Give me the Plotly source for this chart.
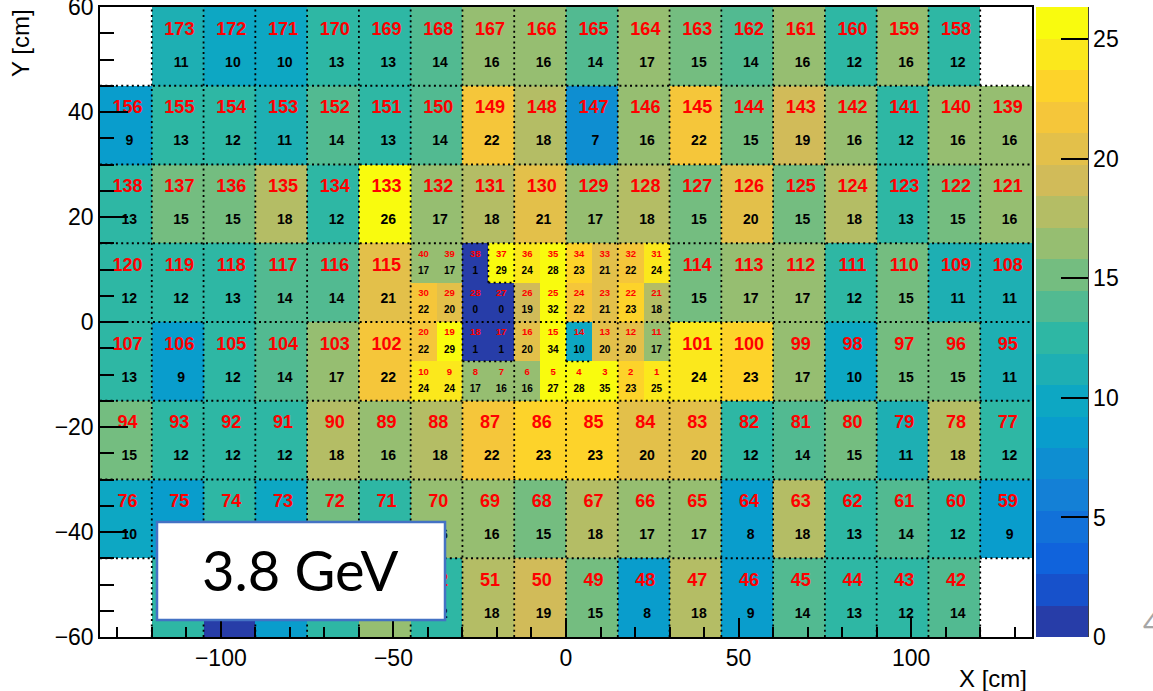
import numpy as np
import plotly.graph_objects as go

# ---------------- data ----------------
# Large cells (15 x 15 cm), rows from top (y 45..60) to bottom (y -60..-45)
row1_ids = [173, 172, 171, 170, 169, 168, 167, 166, 165, 164, 163, 162, 161, 160, 159, 158]
row1_val = [11, 10, 10, 13, 13, 14, 16, 16, 14, 17, 15, 14, 16, 12, 16, 12]
row2_ids = [156, 155, 154, 153, 152, 151, 150, 149, 148, 147, 146, 145, 144, 143, 142, 141, 140, 139]
row2_val = [9, 13, 12, 11, 14, 13, 14, 22, 18, 7, 16, 22, 15, 19, 16, 12, 16, 16]
row3_ids = [138, 137, 136, 135, 134, 133, 132, 131, 130, 129, 128, 127, 126, 125, 124, 123, 122, 121]
row3_val = [13, 15, 15, 18, 12, 26, 17, 18, 21, 17, 18, 15, 20, 15, 18, 13, 15, 16]
row4_ids = [120, 119, 118, 117, 116, 115, 114, 113, 112, 111, 110, 109, 108]
row4_val = [12, 12, 13, 14, 14, 21, 15, 17, 17, 12, 15, 11, 11]
row5_ids = [107, 106, 105, 104, 103, 102, 101, 100, 99, 98, 97, 96, 95]
row5_val = [13, 9, 12, 14, 17, 22, 24, 23, 17, 10, 15, 15, 11]
row6_ids = [94, 93, 92, 91, 90, 89, 88, 87, 86, 85, 84, 83, 82, 81, 80, 79, 78, 77]
row6_val = [15, 12, 12, 12, 18, 16, 18, 22, 23, 23, 20, 20, 12, 14, 15, 11, 18, 12]
row7_ids = [76, 75, 74, 73, 72, 71, 70, 69, 68, 67, 66, 65, 64, 63, 62, 61, 60, 59]
row7_val = [10, 9, 13, 10, 15, 13, 16, 16, 15, 18, 17, 17, 8, 18, 13, 14, 12, 9]
row8_ids = [57, 56, 55, 54, 53, 52, 51, 50, 49, 48, 47, 46, 45, 44, 43, 42]
row8_val = [12, 1, 8, 13, 17, 12, 18, 19, 15, 8, 18, 9, 14, 13, 12, 14]

# Small cells (7.5 x 7.5 cm) in the central insert, rows from top to bottom
srow1_ids = [40, 39, 38, 37, 36, 35, 34, 33, 32, 31]
srow1_val = [17, 17, 1, 29, 24, 28, 23, 21, 22, 24]
srow2_ids = [30, 29, 28, 27, 26, 25, 24, 23, 22, 21]
srow2_val = [22, 20, 0, 0, 19, 32, 22, 21, 23, 18]
srow3_ids = [20, 19, 18, 17, 16, 15, 14, 13, 12, 11]
srow3_val = [22, 29, 1, 1, 20, 34, 10, 20, 20, 17]
srow4_ids = [10, 9, 8, 7, 6, 5, 4, 3, 2, 1]
srow4_val = [24, 24, 17, 16, 16, 27, 28, 35, 23, 25]

colorbar_ticks = [0, 5, 10, 15, 20, 25]
z_max = 26.35
label_text = "3.8 GeV"

# ---------------- geometry of the detector ----------------
NCOL, NROW = 18, 8
X0, Y_TOP, BIG, SMALL = -135.0, 60.0, 15.0, 7.5
full = list(range(18))
gap = [0, 1, 2, 3, 4, 5, 11, 12, 13, 14, 15, 16, 17]
inner = list(range(1, 17))
big_rows = [
    (row1_ids, row1_val, inner), (row2_ids, row2_val, full), (row3_ids, row3_val, full),
    (row4_ids, row4_val, gap), (row5_ids, row5_val, gap), (row6_ids, row6_val, full),
    (row7_ids, row7_val, full), (row8_ids, row8_val, inner),
]
small_rows = [(srow1_ids, srow1_val), (srow2_ids, srow2_val),
              (srow3_ids, srow3_val), (srow4_ids, srow4_val)]
SX0, SY_TOP = -45.0, 15.0

nfx, nfy = 36, 16
fx = X0 + SMALL / 2 + SMALL * np.arange(nfx)
fy = -60 + SMALL / 2 + SMALL * np.arange(nfy)
Z = [[None] * nfx for _ in range(nfy)]

def fine_index(x, y):
    return int(round((x - X0 - SMALL / 2) / SMALL)), int(round((y + 60 - SMALL / 2) / SMALL))

id_x, id_y, id_t, id_s = [], [], [], []
v_x, v_y, v_t, v_s = [], [], [], []

for r, (ids, vals, cols) in enumerate(big_rows):
    yc = Y_TOP - BIG * (r + 0.5)
    for cid, v, c in zip(ids, vals, cols):
        xc = X0 + BIG * (c + 0.5)
        for dx in (-SMALL / 2, SMALL / 2):
            for dy in (-SMALL / 2, SMALL / 2):
                i, j = fine_index(xc + dx, yc + dy)
                Z[j][i] = v
        id_x.append(xc + 0.5); id_y.append(yc + 3.1); id_t.append(str(cid)); id_s.append(18)
        v_x.append(xc + 1.0); v_y.append(yc - 3.2); v_t.append(str(v)); v_s.append(14)

for r, (ids, vals) in enumerate(small_rows):
    yc = SY_TOP - SMALL * (r + 0.5)
    for k, (cid, v) in enumerate(zip(ids, vals)):
        xc = SX0 + SMALL * (k + 0.5)
        i, j = fine_index(xc, yc)
        Z[j][i] = v
        id_x.append(xc); id_y.append(yc + 1.65); id_t.append(str(cid)); id_s.append(9.5)
        v_x.append(xc); v_y.append(yc - 1.6); v_t.append(str(v)); v_s.append(10)

# ---------------- ROOT kBird palette, 20 contour bands ----------------
st = [0.0, 0.125, 0.25, 0.375, 0.5, 0.625, 0.75, 0.875, 1.0]
pr = [0.2082, 0.0592, 0.0780, 0.0232, 0.1802, 0.5301, 0.8186, 0.9956, 0.9764]
pg = [0.1664, 0.3599, 0.5041, 0.6419, 0.7178, 0.7492, 0.7328, 0.7862, 0.9832]
pb = [0.5293, 0.8684, 0.8385, 0.7914, 0.6425, 0.4662, 0.3499, 0.1968, 0.0539]

def bird(f):
    return "rgb(%d,%d,%d)" % tuple(int(round(255 * np.interp(f, st, ch))) for ch in (pr, pg, pb))

NB = 20
cscale = []
for b in range(NB):
    k = int((b + 0.99) * 255 / NB)
    col = bird(min(k, 254) / 254)
    cscale.append([b / NB, col])
    cscale.append([(b + 1) / NB, col])

# ---------------- figure ----------------
fig = go.Figure()
fig.add_trace(go.Heatmap(
    x=fx, y=fy, z=Z, zmin=0, zmax=z_max, colorscale=cscale, zsmooth=False,
    hoverongaps=False,
    colorbar=dict(
        x=(1036 - 100) / 932, xanchor="left", xpad=0, ypad=0,
        y=0.5, yanchor="middle", len=630, lenmode="pixels",
        thickness=52, thicknessmode="pixels", outlinewidth=0,
        tickvals=colorbar_ticks, ticks="inside", ticklen=27, tickwidth=1.5,
        tickcolor="black", ticklabeloverflow="allow",
        tickfont=dict(family="Liberation Sans", size=23, color="black"),
    ),
))

# dotted cell boundaries
gx, gy = [], []
for c in range(1, NCOL):
    xv = X0 + BIG * c
    gx += [xv, xv, None]; gy += [-60, 60, None]
for r in range(1, NROW):
    yv = Y_TOP - BIG * r
    gx += [X0, -X0, None]; gy += [yv, yv, None]
extra = [((-22.5, 7.5), (-22.5, 15)), ((-22.5, 7.5), (-15, 7.5)),
         ((-30, -7.5), (-15, -7.5)), ((0, -7.5), (7.5, -7.5))]
for (a, b) in extra:
    gx += [a[0], b[0], None]; gy += [a[1], b[1], None]
fig.add_trace(go.Scatter(x=gx, y=gy, mode="lines", hoverinfo="skip",
                         line=dict(color="black", width=1.8, dash="2px,3.3px"),
                         showlegend=False))

fig.add_trace(go.Scatter(x=id_x, y=id_y, text=id_t, mode="text", hoverinfo="skip",
                         textfont=dict(family="Liberation Sans", size=id_s, color="red",
                                       weight="bold"),
                         showlegend=False))
fig.add_trace(go.Scatter(x=v_x, y=v_y, text=v_t, mode="text", hoverinfo="skip",
                         textfont=dict(family="Liberation Sans", size=v_s, color="black",
                                       weight="bold"),
                         showlegend=False))

axis_font = dict(family="Liberation Sans", size=23, color="black")
fig.update_layout(
    width=1153, height=691,
    margin=dict(l=100, r=121, t=7, b=54, autoexpand=False),
    paper_bgcolor="white", plot_bgcolor="white",
    showlegend=False,
    xaxis=dict(range=[-135, 135], tick0=0, dtick=50, showgrid=False, zeroline=False,
               ticks="inside", ticklen=19, tickwidth=1.5, tickcolor="black",
               minor=dict(dtick=10, tick0=0, ticks="inside", ticklen=10,
                          tickwidth=1.5, tickcolor="black", showgrid=False),
               showline=True, mirror=True, linecolor="black", linewidth=1.5,
               automargin=False, ticklabeloverflow="allow", tickfont=axis_font),
    yaxis=dict(range=[-60, 60], tick0=0, dtick=20, showgrid=False, zeroline=False,
               ticks="inside", ticklen=28, tickwidth=1.5, tickcolor="black",
               minor=dict(dtick=5, tick0=0, ticks="inside", ticklen=14,
                          tickwidth=1.5, tickcolor="black", showgrid=False),
               showline=True, mirror=True, linecolor="black", linewidth=1.5,
               automargin=False, ticklabeloverflow="allow", tickfont=axis_font),
)

# colorbar axis line (right side only, as in ROOT)
fig.add_shape(type="line", xref="paper", yref="paper",
              x0=(1088 - 100) / 932, x1=(1088 - 100) / 932, y0=0, y1=1,
              line=dict(color="black", width=1.5))

# axis titles
fig.add_annotation(text="X [cm]", xref="paper", yref="paper",
                   x=(1029 - 100) / 932, y=(637 - 678) / 630, xanchor="right", yanchor="middle",
                   showarrow=False, font=dict(family="Liberation Sans", size=24, color="black"))
fig.add_annotation(text="Y [cm]", xref="paper", yref="paper", textangle=-90,
                   x=(20 - 100) / 932, y=1.0, xanchor="center", yanchor="top",
                   showarrow=False, font=dict(family="Liberation Sans", size=24, color="black"))

# energy label box
fig.add_shape(type="rect", xref="paper", yref="paper", layer="above",
              x0=(157 - 100) / 932, x1=(445 - 100) / 932,
              y0=(637 - 620) / 630, y1=(637 - 522) / 630,
              fillcolor="white", line=dict(color="#4472C4", width=2.5))
fig.add_annotation(text=label_text, xref="paper", yref="paper",
                   x=(300 - 100) / 932, y=(637 - 569) / 630, xanchor="center", yanchor="middle",
                   showarrow=False, font=dict(family="Lato", size=56, color="black"))

# slide page number fragment
fig.add_annotation(text="4", xref="paper", yref="paper",
                   x=(1141 - 100) / 932, y=(637 - 622) / 630, xanchor="left", yanchor="middle",
                   showarrow=False, font=dict(family="Lato", size=30, color="#a6a6a6"))

fig.write_html("out.html")
